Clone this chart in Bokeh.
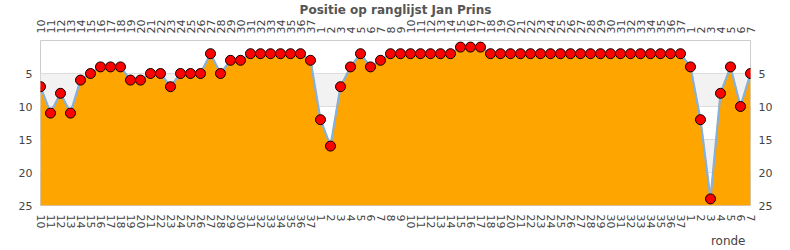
from bokeh.plotting import figure
from bokeh.models import Range1d, FixedTicker, LinearAxis, Title
from bokeh.embed import file_html
from bokeh.resources import INLINE

# round labels (three series of rounds)
rounds = [10, 11, 12, 13, 14, 15, 16, 17, 18, 19, 20, 21, 22, 23, 24, 25, 26, 27, 28, 29,
          30, 31, 32, 33, 34, 35, 36, 37,
          1, 2, 3, 4, 5, 6, 7, 8, 9, 10, 11, 12, 13, 14, 15, 16, 17, 18, 19, 20,
          21, 22, 23, 24, 25, 26, 27, 28, 29, 30, 31, 32, 33, 34, 35, 36, 37,
          1, 2, 3, 4, 5, 6, 7]
# position in ranking per round
ranks = [7, 11, 8, 11, 6, 5, 4, 4, 4, 6, 6, 5, 5, 7, 5, 5, 5, 2, 5, 3,
         3, 2, 2, 2, 2, 2, 2, 3,
         12, 16, 7, 4, 2, 4, 3, 2, 2, 2, 2, 2, 2, 2, 1, 1, 1, 2, 2, 2,
         2, 2, 2, 2, 2, 2, 2, 2, 2, 2, 2, 2, 2, 2, 2, 2, 2,
         4, 12, 24, 8, 4, 10, 5]
y_ticks = [5, 10, 15, 20, 25]
title_text = "Positie op ranglijst Jan Prins"
x_title = "ronde"

idx = list(range(len(rounds)))
label_map = {i: str(r) for i, r in zip(idx, rounds)}
bottom_val = max(y_ticks)

p = figure(width=790, height=250, output_backend="svg", toolbar_location=None,
           x_range=Range1d(0, len(rounds) - 1), y_range=Range1d(bottom_val, 0),
           x_axis_location=None, y_axis_location=None,
           min_border_left=40, min_border_right=40, min_border_top=40, min_border_bottom=45)
p.outline_line_color = "#cccccc"
p.background_fill_color = "white"

font = "DejaVu Sans"
def style_axis(ax):
    ax.major_tick_out = 0
    ax.major_tick_in = 0
    ax.minor_tick_out = 0
    ax.minor_tick_in = 0
    ax.axis_line_color = None
    ax.major_label_text_font = font
    ax.major_label_text_font_size = "11px"
    ax.major_label_text_color = "#444444"

for loc, standoff in (("below", 9), ("above", 7)):
    ax = LinearAxis(ticker=FixedTicker(ticks=idx), major_label_overrides=label_map,
                    major_label_orientation="vertical")
    style_axis(ax)
    ax.major_label_standoff = standoff
    p.add_layout(ax, loc)

for loc in ("left", "right"):
    ax = LinearAxis(ticker=FixedTicker(ticks=y_ticks))
    style_axis(ax)
    ax.major_label_standoff = 8
    p.add_layout(ax, loc)

p.xgrid.visible = False
p.ygrid.ticker = FixedTicker(ticks=y_ticks)
p.ygrid.grid_line_color = "#dddddd"
p.ygrid.band_fill_color = "#f2f2f2"
p.ygrid.band_fill_alpha = 1.0

p.varea(x=idx, y1=ranks, y2=[bottom_val] * len(idx), fill_color="#FFA500")
p.line(x=idx, y=ranks, line_color="#9aa9b8", line_width=2.2)
p.line(x=idx, y=ranks, line_color="#7cb5ec", line_width=1.2)
p.scatter(x=idx, y=ranks, marker="circle", size=10, fill_color="#ff0000",
          line_color="black", line_width=1)

p.add_layout(Title(text=title_text, align="center", text_font=font, text_font_size="12px",
                   text_font_style="bold", text_color="#555555", standoff=0, offset=0), "above")
p.add_layout(Title(text=x_title, align="right", text_font=font, text_font_size="12px",
                   text_font_style="normal", text_color="#444444", standoff=0, offset=5), "below")

open("out.html", "w").write(file_html(p, INLINE))
